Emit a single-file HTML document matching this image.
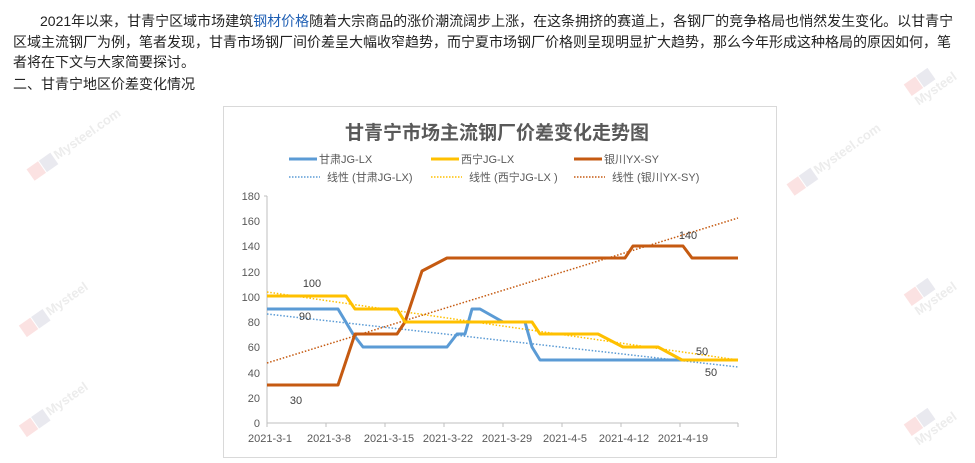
<!DOCTYPE html>
<html><head><meta charset="utf-8"><style>
body{margin:0;background:#fff;width:975px;height:463px;overflow:hidden;position:relative;font-family:"Liberation Sans","Noto Sans CJK SC",sans-serif;}
.p{position:absolute;left:13px;font-size:14px;color:#222;line-height:20.7px;width:970px;white-space:nowrap}
.wm{position:absolute;transform:rotate(-35deg);opacity:.18;font-size:13px;color:#999;font-weight:bold}
.wm b{display:inline-block;width:14px;height:14px;background:#e66;margin-right:1px;vertical-align:middle}
.wm i{display:inline-block;width:14px;height:14px;background:#88a;margin-right:2px;vertical-align:middle}
</style></head><body>
<div class="p" style="top:11px;text-indent:27px">2021年以来，甘青宁区域市场建筑<span style="color:#1f5fb4">钢材价格</span>随着大宗商品的涨价潮流阔步上涨，在这条拥挤的赛道上，各钢厂的竞争格局也悄然发生变化。以甘青宁<br>区域主流钢厂为例，笔者发现，甘青市场钢厂间价差呈大幅收窄趋势，而宁夏市场钢厂价格则呈现明显扩大趋势，那么今年形成这种格局的原因如何，笔<br>者将在下文与大家简要探讨。</div>
<div class="p" style="top:74px">二、甘青宁地区价差变化情况</div>
<div class="wm" style="left:20px;top:135px"><b></b><i></i>Mysteel.com</div>
<div class="wm" style="left:15px;top:300px"><b></b><i></i>Mysteel</div>
<div class="wm" style="left:15px;top:400px"><b></b><i></i>Mysteel</div>
<div class="wm" style="left:780px;top:150px"><b></b><i></i>Mysteel.com</div>
<div class="wm" style="left:905px;top:270px"><b></b><i></i>Mysteel</div>
<div class="wm" style="left:905px;top:400px"><b></b><i></i>Mysteel</div>
<div class="wm" style="left:905px;top:60px"><b></b><i></i>Mysteel</div>
<svg width="975" height="463" style="position:absolute;left:0;top:0" font-family="Liberation Sans,Noto Sans CJK SC,sans-serif">
<rect x="223.5" y="106.5" width="553" height="351" fill="none" stroke="#d9d9d9"/>
<text x="497" y="139" font-size="19" fill="#595959" text-anchor="middle" font-weight="bold" font-family="Noto Sans CJK SC,sans-serif">甘青宁市场主流钢厂价差变化走势图</text>
<g font-size="11" fill="#595959">
<line x1="289" y1="159" x2="317" y2="159" stroke="#5b9bd5" stroke-width="3"/><text x="319" y="163">甘肃JG-LX</text>
<line x1="431" y1="159" x2="459" y2="159" stroke="#ffc000" stroke-width="3"/><text x="461" y="163">西宁JG-LX</text>
<line x1="574" y1="159" x2="602" y2="159" stroke="#c55a11" stroke-width="3"/><text x="604" y="163">银川YX-SY</text>
<line x1="289" y1="177" x2="320" y2="177" stroke="#5b9bd5" stroke-width="1.5" stroke-dasharray="1.5,1.5"/><text x="327" y="181">线性 (甘肃JG-LX)</text>
<line x1="431" y1="177" x2="462" y2="177" stroke="#ffc000" stroke-width="1.5" stroke-dasharray="1.5,1.5"/><text x="469" y="181">线性 (西宁JG-LX )</text>
<line x1="574" y1="177" x2="605" y2="177" stroke="#c55a11" stroke-width="1.5" stroke-dasharray="1.5,1.5"/><text x="612" y="181">线性 (银川YX-SY)</text>
</g>
<g stroke="#bfbfbf" stroke-width="1">
<line x1="267" y1="196" x2="267" y2="423"/><line x1="267" y1="423" x2="738" y2="423"/>
<line x1="264" y1="196" x2="267" y2="196"/>
<line x1="267" y1="423" x2="267" y2="427"/><line x1="326" y1="423" x2="326" y2="427"/><line x1="385" y1="423" x2="385" y2="427"/><line x1="444" y1="423" x2="444" y2="427"/><line x1="503" y1="423" x2="503" y2="427"/><line x1="562" y1="423" x2="562" y2="427"/><line x1="621" y1="423" x2="621" y2="427"/><line x1="680" y1="423" x2="680" y2="427"/><line x1="738" y1="423" x2="738" y2="427"/>
</g>
<g font-size="11" fill="#595959" text-anchor="end">
<text x="260" y="427">0</text><text x="260" y="402">20</text><text x="260" y="377">40</text><text x="260" y="351">60</text><text x="260" y="326">80</text><text x="260" y="301">100</text><text x="260" y="276">120</text><text x="260" y="250">140</text><text x="260" y="225">160</text><text x="260" y="200">180</text>
</g>
<g font-size="11" fill="#595959" text-anchor="middle">
<text x="270" y="442">2021-3-1</text><text x="329" y="442">2021-3-8</text><text x="389" y="442">2021-3-15</text><text x="448" y="442">2021-3-22</text><text x="507" y="442">2021-3-29</text><text x="565" y="442">2021-4-5</text><text x="624" y="442">2021-4-12</text><text x="683" y="442">2021-4-19</text>
</g>
<g fill="none" stroke-dasharray="1.5,1.8" stroke-width="1.5">
<line x1="267" y1="314" x2="738" y2="367" stroke="#5b9bd5"/>
<line x1="267" y1="292" x2="738" y2="360" stroke="#ffc000"/>
<line x1="267" y1="363" x2="738" y2="218" stroke="#c55a11"/>
</g>
<g fill="none" stroke-width="3" stroke-linejoin="round">
<polyline stroke="#5b9bd5" points="267,309 338,309 353,334 363,347 447,347 457,334 465,334 472,309 480,309 503,322 525,322 532,347 540,360 738,360"/>
<polyline stroke="#c55a11" points="267,385 338,385 355,334 397,334 405,322 422,271 447,258 625,258 633,246 683,246 692,258 738,258"/>
<polyline stroke="#ffc000" points="267,296 346,296 355,309 397,309 405,322 532,322 540,334 598,334 623,347 658,347 682,360 738,360"/>
</g>
<g font-size="11" fill="#404040" text-anchor="middle">
<text x="312" y="287">100</text><text x="305" y="320">90</text><text x="296" y="404">30</text><text x="688" y="239">140</text><text x="702" y="355">50</text><text x="711" y="376">50</text>
</g>
</svg>
</body></html>
